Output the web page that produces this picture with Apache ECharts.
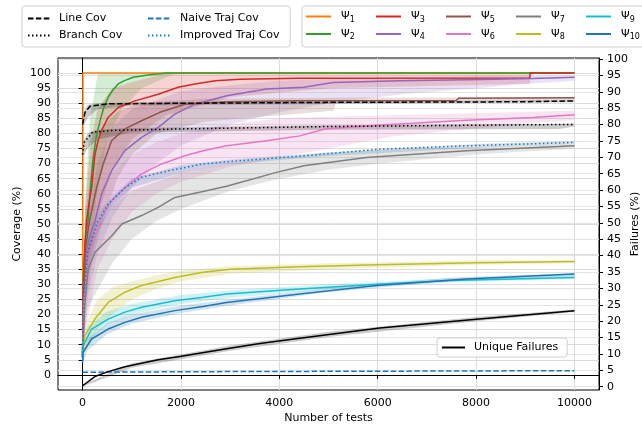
<!DOCTYPE html>
<html>
<head>
<meta charset="utf-8">
<script src="https://cdn.jsdelivr.net/npm/echarts@6/dist/echarts.min.js"></script>
<style>html,body{margin:0;padding:0;background:#fff}#c{width:642px;height:427px}</style>
</head>
<body>
<div id="c"></div>
<script>
// ---- tick labels ----
const xTicks = [0, 2000, 4000, 6000, 8000, 10000];
const covTicks = [0,5,10,15,20,25,30,35,40,45,50,55,60,65,70,75,80,85,90,95,100];
const failTicks = [0,5,10,15,20,25,30,35,40,45,50,55,60,65,70,75,80,85,90,95,100];

// ---- mean curves [tests, %] ----
const psi1 = [[0,5],[8,100],[10000,100]];
const psi2 = [[0,6],[15,32],[50,44],[110,51],[160,62],[215,72],[280,79],[352,84],[430,88.5],[520,92],[620,94.5],[724,96.4],[850,97.5],[1030,98.6],[1300,99.3],[1700,100],[10000,100]];
const psi3 = [[0,6],[15,30],[50,44],[81,51],[130,57],[183,62],[250,73],[320,78],[386,81],[520,85.3],[724,88.6],[1063,90.8],[1537,93],[1943,95.3],[2283,96.4],[2700,97.5],[3200,98],[4400,98.3],[9090,98.4],[9100,100],[10000,100]];
const psi4 = [[0,6],[20,25],[67,40.6],[150,46],[250,51],[386,60],[589,67.6],[860,74.3],[1199,78.7],[1537,82],[1876,86.4],[2283,89.7],[2927,92.5],[3740,94.7],[4500,95.3],[5090,96.9],[6449,97.5],[7805,97.8],[9160,98.2],[10000,98.6]];
const psi5 = [[0,6],[15,28],[60,42],[140,51],[285,62],[419,69.9],[589,77.6],[860,81.5],[1199,84.2],[1571,87],[2080,89.7],[2927,90.5],[4400,90.8],[7600,90.9],[7650,91.7],[10000,91.8]];
const psi6 = [[0,6],[30,25],[148,40.6],[352,51],[589,57.7],[860,62],[1199,66.6],[1606,69.9],[2080,72.6],[2451,74.3],[2927,75.9],[3740,77.6],[4416,79.2],[4925,81.5],[6042,82.8],[6720,83.4],[7805,84.4],[9160,85.3],[10000,86.2]];
const psi7 = [[0,6],[47,24],[114,35],[250,40.6],[589,46],[800,50],[1199,52.8],[1537,55.5],[1876,58.8],[2451,60.8],[2927,62.5],[3943,67.1],[4500,69.3],[5772,72],[7805,74.3],[10000,75.9]];
const psi8 = [[0,6],[47,13],[250,18.5],[520,24],[860,27.4],[1199,29.6],[1876,32.3],[2451,34],[3000,35],[4400,35.8],[6000,36.5],[8000,37.2],[10000,37.6]];
const psi9 = [[0,5],[12,9.7],[183,15.2],[520,18.5],[860,20.8],[1199,22.4],[1876,24.6],[2451,25.7],[2927,26.8],[4416,28.5],[6000,30],[7500,31.3],[10000,32.3]];
const psi10 = [[0,4],[12,7.5],[183,11.9],[520,15.2],[860,17.4],[1199,19.1],[1876,21.3],[2451,22.7],[2927,24],[4416,26.8],[5975,29.6],[7805,31.8],[10000,33.4]];
const lineCov = [[0,83],[50,87],[150,89],[500,89.8],[2000,90],[5000,90.3],[9000,90.5],[10000,90.8]];
const branchCov = [[0,73],[30,77],[200,80.4],[600,81],[2000,81.5],[5000,82.3],[10000,83]];
const naiveTraj = [[0,0.9],[3000,1.1],[10000,1.4]];
const improvedTraj = [[0,6],[20,25],[101,40.6],[300,50.5],[520,56.6],[860,62],[1199,65.5],[1740,67.6],[2451,69.9],[2927,70.6],[4500,72.6],[6042,74.8],[7805,75.9],[10000,77]];
const uniqueFailures = [[0,0.3],[250,3.1],[520,4.6],[860,6.1],[1537,8.2],[1978,9.2],[2927,11.6],[3604,13.2],[4416,14.8],[6042,17.9],[8008,20.6],[10000,23.2]];

// ---- min/max bands [tests, low, high] ----
const band2 = [[0,6,6],[20,20,45],[60,30,60],[150,40,85],[310,62,100],[500,78,100],[800,88,100],[1200,95,100],[1900,100,100],[10000,100,100]];
const band3 = [[0,6,6],[50,25,55],[150,38,75],[300,52,88],[600,68,95],[1000,78,97],[1700,86,100],[3000,92,100],[5000,95,100],[9100,96.5,100],[9110,100,100],[10000,100,100]];
const band4 = [[0,6,6],[100,25,50],[300,40,70],[600,52,82],[1000,62,88],[1500,70,91],[2000,76,94],[3000,83,96],[4000,87,97.5],[5000,90,98],[6500,93,98.5],[8000,95,99],[9000,96.5,99],[10000,97.5,99.2]];
const band5 = [[0,6,6],[50,22,52],[200,38,72],[400,50,82],[700,65,87],[1000,73,89],[1500,80,90.5],[2500,84,91.5],[5100,87.5,91.8],[5150,90,91.8],[10000,91,92]];
const band6 = [[0,6,6],[100,18,45],[300,35,57],[600,45,67],[1000,54,73],[1500,60,77],[2000,64,80],[3000,69,83],[4000,72,85],[5000,75,85.5],[6300,79,86],[7500,81,86.5],[10000,84.5,87.5]];
const band7 = [[0,6,8],[100,22,42],[300,28,49],[600,37,56],[1000,45,61],[1500,51,64],[2000,55,67],[3000,61,70],[4000,65,72],[5000,68,73.5],[6000,70,74.5],[8000,73,75.5],[10000,75,76.5]];
const band8 = [[0,6,6],[100,10,18],[300,15,25],[600,20,29],[1000,25,31],[1500,28.5,33],[2000,31,34.5],[3000,33.5,36],[5000,35,37],[8000,36.5,38],[10000,37,38]];
const band9 = [[0,5,5],[100,11,16],[500,16.5,21],[1000,20,23.5],[2000,23.5,26.5],[3000,25.5,28],[5000,28.5,30],[7500,30.7,32],[10000,31.8,33]];
const band10 = [[0,4,4],[100,8,12],[500,13.5,17],[1000,17,20],[2000,20.5,23],[3000,23,25],[5000,27.5,28.8],[7500,31,32.3],[10000,32.8,33.8]];
const bandLineCov = [[0,82,86],[100,85,89.5],[300,88,90],[1000,89.3,90.3],[5000,89.8,90.6],[10000,90.3,91.1]];
const bandBranchCov = [[0,72,77],[100,75,80],[300,78,81.3],[1000,80.3,81.8],[5000,81.2,82.7],[9700,81.5,83.1],[10000,82.3,83.3]];
const bandImproved = [[0,6,6],[100,35,45],[300,47,53],[600,56,59],[1000,62,65],[2000,67,69.5],[3000,69.8,71.3],[5000,72.5,73.8],[8000,75.3,76.5],[10000,76.5,77.5]];
const bandFailures = [[0,0,0.6],[1000,5.8,7.2],[3000,11,12.6],[5000,15.2,16.8],[8000,20,21.3],[10000,22.8,23.6]];

const psiNames = ['Ψ1','Ψ2','Ψ3','Ψ4','Ψ5','Ψ6','Ψ7','Ψ8','Ψ9','Ψ10'];
const psiColors = ['#ff7f0e','#2ca02c','#d62728','#9467bd','#8c564b','#e377c2','#7f7f7f','#bcbd22','#17becf','#1f77b4'];
const psiLines = [psi1,psi2,psi3,psi4,psi5,psi6,psi7,psi8,psi9,psi10];
const psiBands = [null,band2,band3,band4,band5,band6,band7,band8,band9,band10];

const FONT = 'DejaVu Sans';
const DASH = [5.5, 2.4];
const DOT = [1.5, 2.5];

function bandSeries(name, band, color, yAxisIndex) {
  return {
    type: 'custom', name: name, xAxisIndex: 0, yAxisIndex: yAxisIndex, z: 1, silent: true,
    data: band, encode: { x: 0, y: [1, 2] },
    renderItem: function (params, api) {
      if (params.dataIndex !== 0) return null;
      const up = band.map(p => api.coord([p[0], p[2]]));
      const lo = band.map(p => api.coord([p[0], p[1]])).reverse();
      return { type: 'polygon', shape: { points: up.concat(lo) }, style: { fill: color, opacity: 0.2 } };
    }
  };
}
function lineSeries(name, data, color, type, yAxisIndex, z) {
  return {
    type: 'line', name: name, data: data, xAxisIndex: 0, yAxisIndex: yAxisIndex || 0,
    symbol: 'none', showSymbol: false, z: z || 3,
    lineStyle: { width: 1.5, color: color, type: type || 'solid' },
    itemStyle: { color: color }
  };
}

const series = [];
psiLines.forEach((d, i) => {
  if (psiBands[i]) series.push(bandSeries('band' + psiNames[i], psiBands[i], psiColors[i], 0));
});
series.push(bandSeries('bandLine', bandLineCov, '#000', 0));
series.push(bandSeries('bandBranch', bandBranchCov, '#000', 0));
series.push(bandSeries('bandImproved', bandImproved, '#1f77b4', 0));
series.push(bandSeries('bandFail', bandFailures, '#000', 1));
psiLines.forEach((d, i) => series.push(lineSeries(psiNames[i], d, psiColors[i], 'solid', 0, 3)));
series.push(lineSeries('Line Cov', lineCov, '#000', DASH, 0, 4));
series.push(lineSeries('Branch Cov', branchCov, '#000', DOT, 0, 4));
series.push(lineSeries('Naive Traj Cov', naiveTraj, '#1f77b4', DASH, 0, 4));
series.push(lineSeries('Improved Traj Cov', improvedTraj, '#1f77b4', DOT, 0, 4));
series.push(lineSeries('Unique Failures', uniqueFailures, '#000', 'solid', 1, 4));

const txt = { fontFamily: FONT, fontSize: 11, color: '#000' };
const legTxt = { fontFamily: FONT, fontSize: 11, color: '#000', padding: [0, 0, 0, 4] };
const boxBorder = { borderColor: '#d0d0d0', borderWidth: 1, borderRadius: 3, backgroundColor: 'rgba(255,255,255,0.85)' };
const legBase = { orient: 'vertical', selectedMode: false, itemStyle: { opacity: 0 }, itemHeight: 12 };

const psiCols = [['Ψ1','Ψ2'],['Ψ3','Ψ4'],['Ψ5','Ψ6'],['Ψ7','Ψ8'],['Ψ9','Ψ10']];
const psiLegends = psiCols.map((cols, k) => Object.assign({}, legBase, k === 0 ? boxBorder : {}, {
  data: cols, left: 302 + 70 * k, top: 6,
  itemWidth: 25, itemGap: 5, padding: k === 0 ? [5, 300, 6, 3] : [5, 0, 6, 3],
  formatter: function (n) { return '{p|Ψ}{s|' + n.slice(1) + '}'; },
  textStyle: {
    fontFamily: FONT, fontSize: 11, color: '#000', padding: [0, 0, 0, 5],
    rich: { p: { fontFamily: FONT, fontSize: 11, color: '#000', lineHeight: 14 },
            s: { fontFamily: FONT, fontSize: 8, color: '#000', verticalAlign: 'bottom', lineHeight: 10 } }
  }
}));

const option = {
  animation: false,
  backgroundColor: '#fff',
  grid: { left: 58, top: 58, width: 541, height: 332, outerBoundsMode: 'none', containLabel: false,
          show: true, borderColor: '#000', borderWidth: 1, backgroundColor: 'transparent' },
  legend: [
    Object.assign({}, legBase, boxBorder, {
      data: ['Line Cov', 'Branch Cov'], left: 22, top: 6,
      itemWidth: 22, itemGap: 6, padding: [7, 168, 6, 5], textStyle: legTxt
    }),
    Object.assign({}, legBase, {
      data: ['Naive Traj Cov', 'Improved Traj Cov'], left: 142, top: 6,
      itemWidth: 23, itemGap: 6, padding: [7, 5, 6, 5], textStyle: legTxt
    }),
    ...psiLegends,
    Object.assign({}, legBase, boxBorder, {
      data: ['Unique Failures'], left: 437, top: 338,
      itemWidth: 23, itemGap: 3, padding: [4, 9, 4, 4], textStyle: legTxt
    })
  ],
  xAxis: {
    type: 'value', min: -500, max: 10500,
    name: 'Number of tests', nameLocation: 'middle', nameGap: 23, nameTextStyle: txt, nameMoveOverlap: false,
    axisLine: { show: true, lineStyle: { color: '#000', width: 1 } },
    axisTick: { show: true, length: 4, customValues: xTicks, lineStyle: { color: '#000' } },
    axisLabel: { customValues: xTicks, margin: 8, fontFamily: FONT, fontSize: 11, color: '#000', formatter: v => String(v) },
    splitLine: { show: true, lineStyle: { color: '#dcdcdc', width: 1 } }
  },
  yAxis: [
    {
      type: 'value', min: -5, max: 105, position: 'left',
      name: 'Coverage (%)', nameLocation: 'middle', nameGap: 35, nameRotate: 90, nameTextStyle: txt, nameMoveOverlap: false,
      axisLine: { show: true, lineStyle: { color: '#000', width: 1 } },
      axisTick: { show: true, length: 4, customValues: covTicks, lineStyle: { color: '#000' } },
      axisLabel: { customValues: covTicks, margin: 7, fontFamily: FONT, fontSize: 11, color: '#000', formatter: v => String(v) },
      splitLine: { show: true, lineStyle: { color: '#dcdcdc', width: 1 } }
    },
    {
      type: 'value', min: -1, max: 100.3, position: 'right',
      name: 'Failures (%)', nameLocation: 'middle', nameGap: 31, nameRotate: 90, nameTextStyle: txt, nameMoveOverlap: false,
      axisLine: { show: true, lineStyle: { color: '#000', width: 1 } },
      axisTick: { show: true, length: 4, customValues: failTicks, lineStyle: { color: '#000' } },
      axisLabel: { customValues: failTicks, margin: 8, fontFamily: FONT, fontSize: 11, color: '#000', formatter: v => String(v) },
      splitLine: { show: true, lineStyle: { color: '#e4e4e4', width: 1 } }
    }
  ],
  series: series
};

const chart = echarts.init(document.getElementById('c'), null, { renderer: 'canvas' });
chart.setOption(option);
</script>
</body>
</html>
